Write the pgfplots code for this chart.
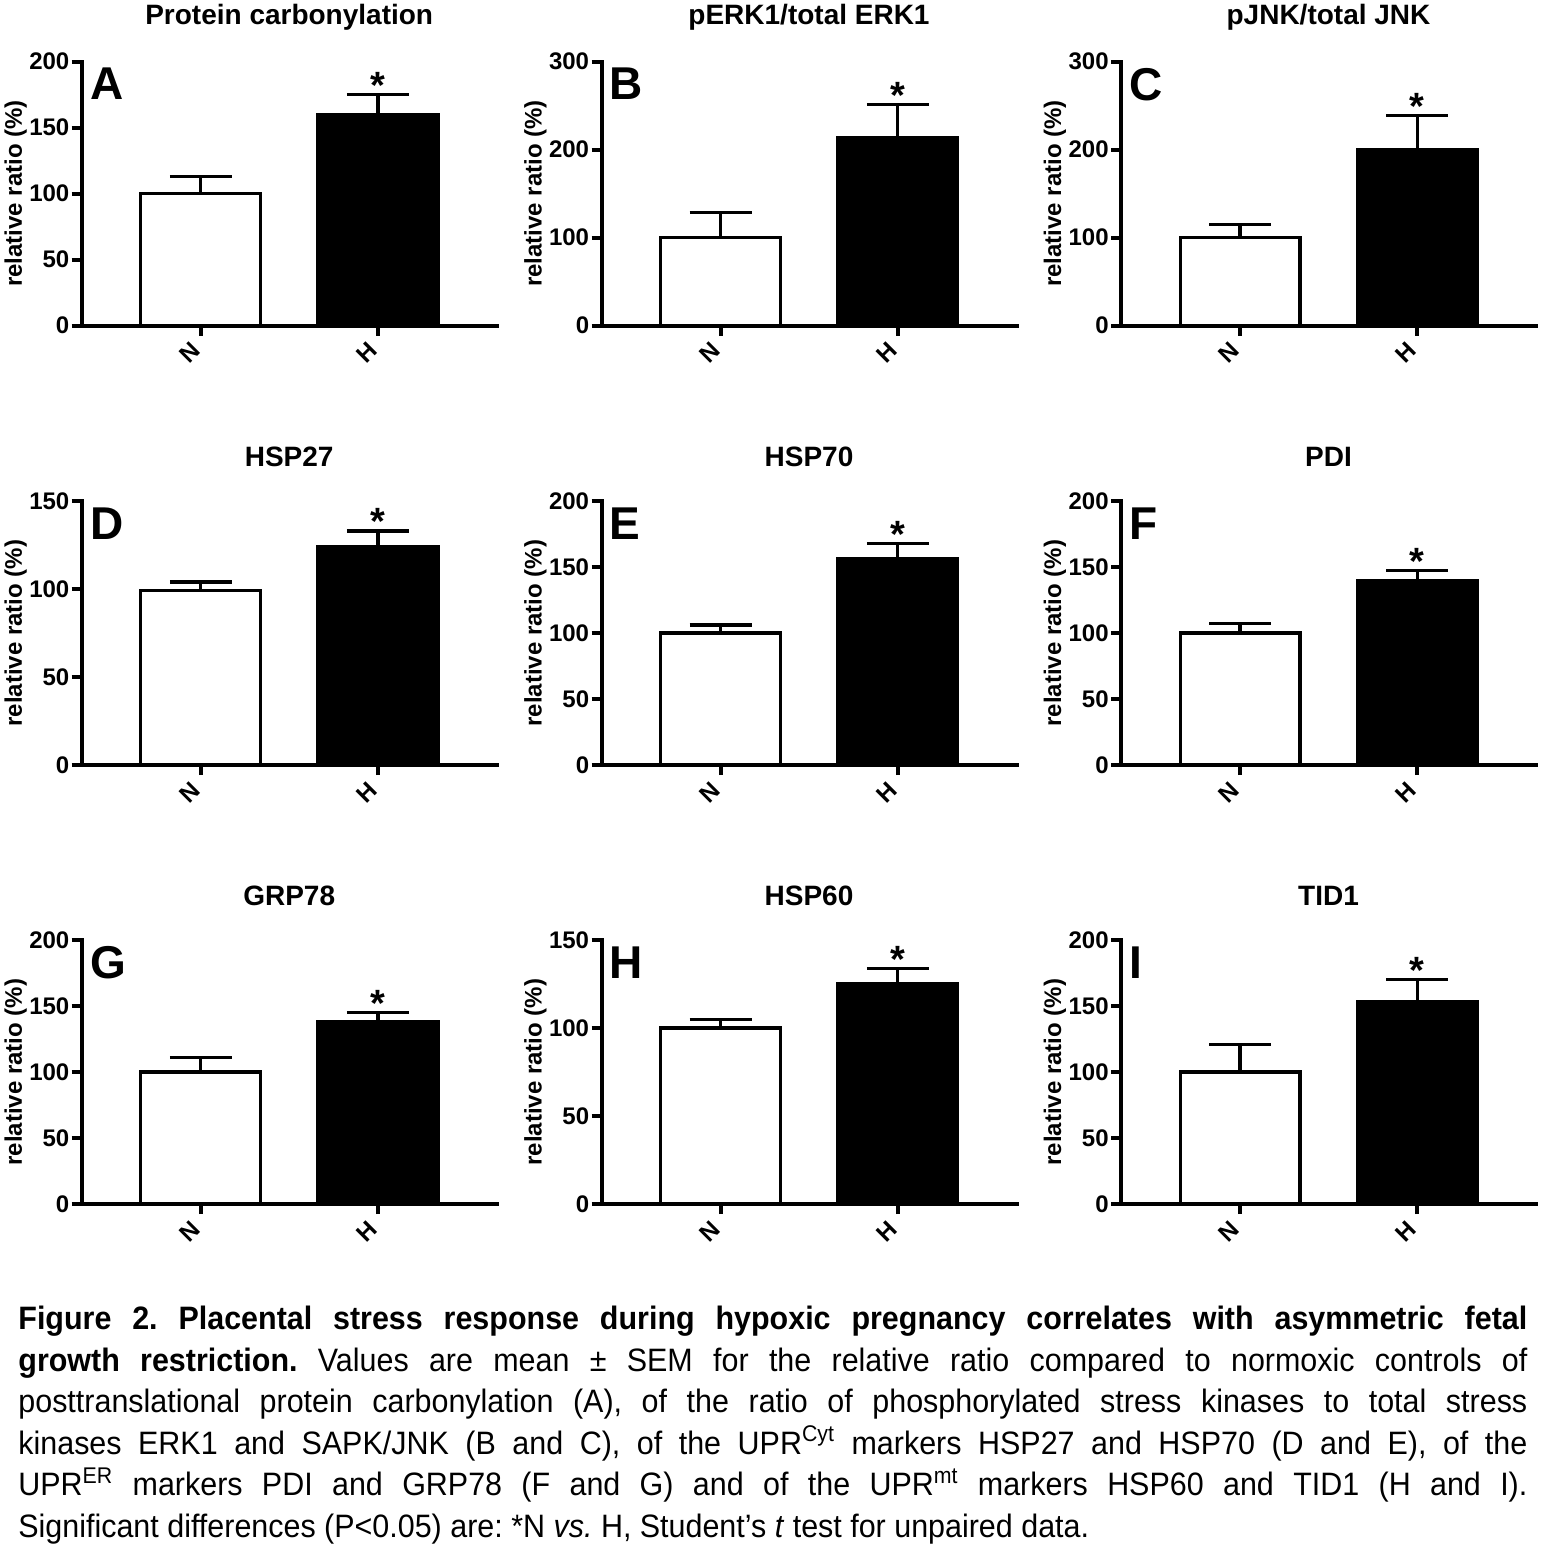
\documentclass[border=0pt]{standalone}
\usepackage{fontspec}
\setmainfont{Liberation Sans}
\newfontfamily\capfont[FakeStretch=0.94]{Liberation Sans}
\usepackage{pgfplots}
\pgfplotsset{compat=1.18}

\pgfplotsset{
 prism/.style={
  scale only axis, width=207.5pt, height=132pt,
  axis x line*=bottom, axis y line*=left,
  axis line style={line width=2pt, line cap=rect},
  xmin=0.328, xmax=2.670, ymin=0,
  xtick={1,2}, xticklabels={N,H},
  tick align=outside, major tick length=5pt,
  tick style={line width=2pt, black},
  /pgf/number format/assume math mode=true,
  tick label style={font=\bfseries\fontsize{12}{12}\selectfont},
  yticklabel style={inner sep=1pt},
  xticklabel style={xshift=0pt, yshift=-3pt, rotate=45, anchor=east},
  ylabel={relative ratio (\%)},
  ylabel style={font=\bfseries\fontsize{12}{12}\selectfont, at={(axis description cs:-0.159,0.5)}, anchor=center},
  title style={font=\bfseries\fontsize{14}{14}\selectfont, at={(0.5,1)}, anchor=center, yshift=16pt},
  ybar, bar width=0.677, clip=false,
  error bars/y dir=plus, error bars/y explicit,
  error bars/error bar style={line width=1.6pt, black},
  error bars/error mark options={rotate=90, line width=1.6pt, mark size=15.5pt, black},
  every axis plot/.append style={bar shift=0pt, line width=1.6pt, draw=black},
 },
 nbar/.style={fill=white, draw=black},
 hbar/.style={fill=black, draw=black},
}
\newcommand{\plabel}[1]{\node[anchor=north west, inner sep=0pt, font=\bfseries\fontsize{23}{23}\selectfont, xshift=4pt, yshift=-3pt] at (rel axis cs:0,1) {#1};}
\newcommand{\sig}[1]{\node[anchor=base, inner sep=0pt, yshift=-2pt, font=\bfseries\fontsize{19}{19}\selectfont] at (axis cs:2,#1) {*};}

\begin{document}
\begin{tikzpicture}
\useasboundingbox (0pt,0pt) rectangle (772pt,-780pt);

% ---------- Row 1 ----------
\begin{axis}[prism, at={(40.85pt,-162.75pt)}, anchor=south west,
  ymax=200, ytick={0,50,100,150,200}, title={Protein carbonylation}]
\addplot[nbar] coordinates {(1,100) +- (0,13)};
\addplot[hbar] coordinates {(2,160) +- (0,15)};
\plabel{A}
\sig{175}
\end{axis}

\begin{axis}[prism, at={(300.75pt,-162.75pt)}, anchor=south west,
  ymax=300, ytick={0,100,200,300}, title={pERK1/total ERK1}]
\addplot[nbar] coordinates {(1,100) +- (0,28)};
\addplot[hbar] coordinates {(2,214) +- (0,37)};
\plabel{B}
\sig{251}
\end{axis}

\begin{axis}[prism, at={(560.5pt,-162.75pt)}, anchor=south west,
  ymax=300, ytick={0,100,200,300}, title={pJNK/total JNK}]
\addplot[nbar] coordinates {(1,100) +- (0,15)};
\addplot[hbar] coordinates {(2,200) +- (0,39)};
\plabel{C}
\sig{239}
\end{axis}

% ---------- Row 2 ----------
\begin{axis}[prism, at={(40.85pt,-382.5pt)}, anchor=south west,
  ymax=150, ytick={0,50,100,150}, title={HSP27}]
\addplot[nbar] coordinates {(1,99) +- (0,5)};
\addplot[hbar] coordinates {(2,124) +- (0,9)};
\plabel{D}
\sig{133}
\end{axis}

\begin{axis}[prism, at={(300.75pt,-382.5pt)}, anchor=south west,
  ymax=200, ytick={0,50,100,150,200}, title={HSP70}]
\addplot[nbar] coordinates {(1,100) +- (0,6)};
\addplot[hbar] coordinates {(2,156) +- (0,12)};
\plabel{E}
\sig{168}
\end{axis}

\begin{axis}[prism, at={(560.5pt,-382.5pt)}, anchor=south west,
  ymax=200, ytick={0,50,100,150,200}, title={PDI}]
\addplot[nbar] coordinates {(1,100) +- (0,7)};
\addplot[hbar] coordinates {(2,140) +- (0,7.5)};
\plabel{F}
\sig{147.5}
\end{axis}

% ---------- Row 3 ----------
\begin{axis}[prism, at={(40.85pt,-602pt)}, anchor=south west,
  ymax=200, ytick={0,50,100,150,200}, title={GRP78}]
\addplot[nbar] coordinates {(1,100) +- (0,11)};
\addplot[hbar] coordinates {(2,138.5) +- (0,6.5)};
\plabel{G}
\sig{145}
\end{axis}

\begin{axis}[prism, at={(300.75pt,-602pt)}, anchor=south west,
  ymax=150, ytick={0,50,100,150}, title={HSP60}]
\addplot[nbar] coordinates {(1,100) +- (0,5)};
\addplot[hbar] coordinates {(2,125) +- (0,9)};
\plabel{H}
\sig{134}
\end{axis}

\begin{axis}[prism, at={(560.5pt,-602pt)}, anchor=south west,
  ymax=200, ytick={0,50,100,150,200}, title={TID1}]
\addplot[nbar] coordinates {(1,100) +- (0,21)};
\addplot[hbar] coordinates {(2,153) +- (0,17)};
\plabel{I}
\sig{170}
\end{axis}

% ---------- Caption ----------
\node[anchor=north west, inner sep=0pt, text width=754.5pt, align=justify,
  font=\capfont\fontsize{16.2pt}{20.75pt}\selectfont\frenchspacing] at (9pt,-653pt) {%
\textbf{Figure 2. Placental stress response during hypoxic pregnancy correlates with asymmetric fetal\linebreak
growth restriction.} Values are mean ± SEM for the relative ratio compared to normoxic controls of\linebreak
posttranslational protein carbonylation (A), of the ratio of phosphorylated stress kinases to total stress\linebreak
kinases ERK1 and SAPK/JNK (B and C), of the UPR\textsuperscript{Cyt} markers HSP27 and HSP70 (D and E), of the\linebreak
UPR\textsuperscript{ER} markers PDI and GRP78 (F and G) and of the UPR\textsuperscript{mt} markers HSP60 and TID1 (H and I).\linebreak
Significant differences (P<0.05) are: *N \textit{vs.} H, Student’s \textit{t} test for unpaired data.};
\end{tikzpicture}
\end{document}
